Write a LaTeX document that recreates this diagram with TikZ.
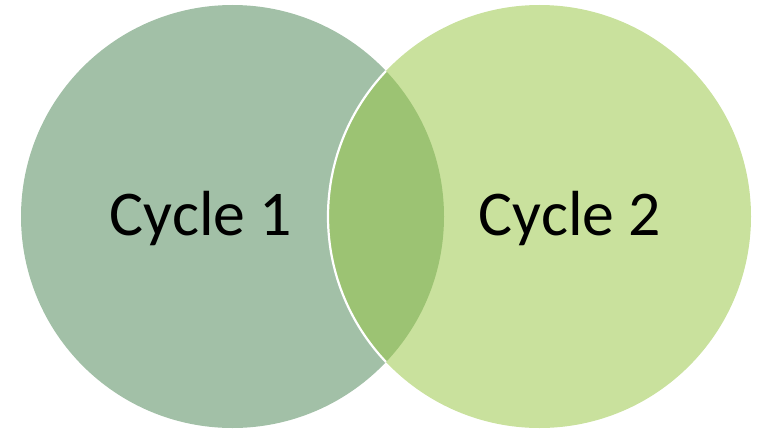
\documentclass[tikz,border=0pt]{standalone}
\usepackage{fontspec}
\setmainfont{Carlito}
\definecolor{leftc}{HTML}{A2C0A7}
\definecolor{rightc}{HTML}{C9E19D}
\definecolor{overc}{HTML}{9CC373}
\begin{document}
\begin{tikzpicture}[x=1bp,y=1bp,
  lbl/.style={font=\fontsize{64}{70}\selectfont, text=black, inner sep=0pt}]
\useasboundingbox (0,0) rectangle (769,432);
\coordinate (cl) at (232.5,215.5);
\coordinate (cr) at (539.5,215.5);
\fill[leftc] (cl) circle (211.5);
\fill[rightc] (cr) circle (211.5);
\begin{scope}
  \clip (cl) circle (211.5);
  \fill[overc] (cr) circle (211.5);
  \draw[white, line width=2.2bp] (cr) circle (211.5);
\end{scope}
\node[lbl, anchor=base] (c1) at (201,197) {Cycle 1};
\node[lbl, anchor=base] (c2) at (570,197) {Cycle 2};
\end{tikzpicture}
\end{document}
